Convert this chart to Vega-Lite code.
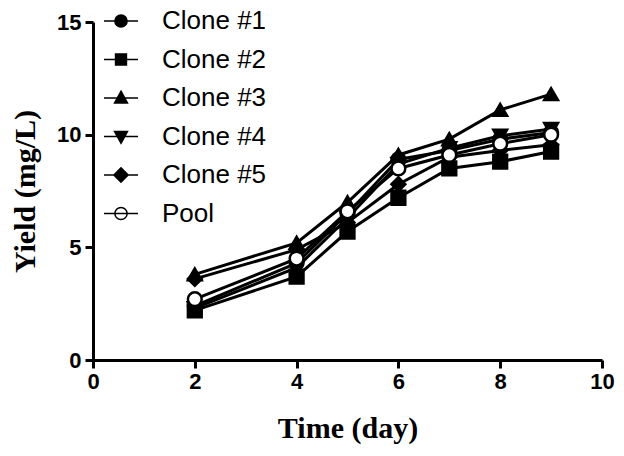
{
  "$schema": "https://vega.github.io/schema/vega-lite/v6.json",
  "autosize": "none",
  "padding": {"left": 93, "top": 22, "right": 22, "bottom": 96},
  "width": 509,
  "height": 338,
  "background": "white",
  "config": {
    "view": {"stroke": null},
    "axis": {
      "grid": false,
      "domainColor": "black",
      "domainWidth": 3,
      "tickColor": "black",
      "tickWidth": 3,
      "tickSize": 8,
      "labelFont": "Liberation Sans",
      "labelFontWeight": "bold",
      "labelFontSize": 22,
      "labelColor": "black",
      "titleFont": "Liberation Serif",
      "titleFontWeight": "bold",
      "titleFontSize": 30,
      "titleColor": "black"
    }
  },
  "data": {
    "values": [
      {"series": "Clone #1", "day": 2, "yield": 2.4},
      {"series": "Clone #1", "day": 4, "yield": 4.3},
      {"series": "Clone #1", "day": 5, "yield": 6.5},
      {"series": "Clone #1", "day": 6, "yield": 8.9},
      {"series": "Clone #1", "day": 7, "yield": 9.3},
      {"series": "Clone #1", "day": 8, "yield": 9.8},
      {"series": "Clone #1", "day": 9, "yield": 10.1},
      {"series": "Clone #2", "day": 2, "yield": 2.2},
      {"series": "Clone #2", "day": 4, "yield": 3.7},
      {"series": "Clone #2", "day": 5, "yield": 5.7},
      {"series": "Clone #2", "day": 6, "yield": 7.2},
      {"series": "Clone #2", "day": 7, "yield": 8.5},
      {"series": "Clone #2", "day": 8, "yield": 8.8},
      {"series": "Clone #2", "day": 9, "yield": 9.25},
      {"series": "Clone #3", "day": 2, "yield": 3.8},
      {"series": "Clone #3", "day": 4, "yield": 5.2},
      {"series": "Clone #3", "day": 5, "yield": 7.0},
      {"series": "Clone #3", "day": 6, "yield": 9.1},
      {"series": "Clone #3", "day": 7, "yield": 9.8},
      {"series": "Clone #3", "day": 8, "yield": 11.1},
      {"series": "Clone #3", "day": 9, "yield": 11.8},
      {"series": "Clone #4", "day": 2, "yield": 2.3},
      {"series": "Clone #4", "day": 4, "yield": 4.1},
      {"series": "Clone #4", "day": 5, "yield": 6.3},
      {"series": "Clone #4", "day": 6, "yield": 8.7},
      {"series": "Clone #4", "day": 7, "yield": 9.4},
      {"series": "Clone #4", "day": 8, "yield": 9.95},
      {"series": "Clone #4", "day": 9, "yield": 10.25},
      {"series": "Clone #5", "day": 2, "yield": 3.6},
      {"series": "Clone #5", "day": 4, "yield": 4.9},
      {"series": "Clone #5", "day": 5, "yield": 6.1},
      {"series": "Clone #5", "day": 6, "yield": 7.8},
      {"series": "Clone #5", "day": 7, "yield": 9.0},
      {"series": "Clone #5", "day": 8, "yield": 9.3},
      {"series": "Clone #5", "day": 9, "yield": 9.55},
      {"series": "Pool", "day": 2, "yield": 2.7},
      {"series": "Pool", "day": 4, "yield": 4.5},
      {"series": "Pool", "day": 5, "yield": 6.6},
      {"series": "Pool", "day": 6, "yield": 8.5},
      {"series": "Pool", "day": 7, "yield": 9.1},
      {"series": "Pool", "day": 8, "yield": 9.6},
      {"series": "Pool", "day": 9, "yield": 10.0}
    ]
  },
  "encoding": {
    "x": {
      "field": "day",
      "type": "quantitative",
      "scale": {"domain": [0, 10], "nice": false},
      "axis": {
        "title": "Time (day)",
        "values": [0, 2, 4, 6, 8, 10],
        "labelFlush": false,
        "labelPadding": 3,
        "titleY": 68,
        "titleBaseline": "middle"
      }
    },
    "y": {
      "field": "yield",
      "type": "quantitative",
      "scale": {"domain": [0, 15], "nice": false},
      "axis": {
        "title": "Yield (mg/L)",
        "values": [0, 5, 10, 15],
        "labelPadding": 4,
        "titleX": -68,
        "titleY": 169,
        "titleAngle": -90,
        "titleAlign": "center",
        "titleBaseline": "middle"
      }
    }
  },
  "layer": [
    {
      "mark": {"type": "line", "stroke": "black", "strokeWidth": 3},
      "encoding": {"detail": {"field": "series", "type": "nominal"}}
    },
    {
      "mark": {"type": "point", "stroke": "black", "strokeWidth": 2.5, "size": 190, "opacity": 1},
      "encoding": {
        "shape": {
          "field": "series",
          "type": "nominal",
          "scale": {
            "domain": ["Clone #1", "Clone #2", "Clone #3", "Clone #4", "Clone #5", "Pool"],
            "range": ["circle", "square", "triangle-up", "triangle-down", "diamond", "circle"]
          },
          "legend": null
        },
        "fill": {
          "field": "series",
          "type": "nominal",
          "scale": {
            "domain": ["Clone #1", "Clone #2", "Clone #3", "Clone #4", "Clone #5", "Pool"],
            "range": ["black", "black", "black", "black", "black", "white"]
          },
          "legend": null
        }
      }
    },
    {
      "transform": [{"filter": "datum.day < 0"}],
      "mark": {"type": "point", "stroke": "black", "strokeWidth": 3, "opacity": 1},
      "encoding": {
        "shape": {
          "field": "series",
          "type": "nominal",
          "scale": {
            "domain": ["Clone #1", "Clone #2", "Clone #3", "Clone #4", "Clone #5", "Pool"],
            "range": [
              "M-1,0H1M0.36,0A0.36,0.36,0,1,1,-0.36,0A0.36,0.36,0,1,1,0.36,0Z",
              "M-1,0H1M-0.32,-0.32H0.32V0.32H-0.32Z",
              "M-1,0H1M0,-0.4L0.38,0.3H-0.38Z",
              "M-1,0H1M0,0.4L0.38,-0.3H-0.38Z",
              "M-1,0H1M0,-0.42L0.42,0L0,0.42L-0.42,0Z",
              "M0.36,0A0.36,0.36,0,1,1,-0.36,0A0.36,0.36,0,1,1,0.36,0ZM-1,0H1"
            ]
          },
          "legend": {
            "title": null,
            "orient": "none",
            "legendX": 10,
            "legendY": -19,
            "padding": 0,
            "symbolSize": 1156,
            "labelFont": "Liberation Sans",
            "labelFontSize": 26,
            "labelColor": "black",
            "labelOffset": 23,
            "rowPadding": 7.5,
            "labelLimit": 300,
            "encode": {
              "symbols": {
                "update": {
                  "stroke": {"value": "black"},
                  "strokeWidth": {"value": 3},
                  "opacity": {"value": 1}
                }
              }
            }
          }
        },
        "fill": {
          "field": "series",
          "type": "nominal",
          "scale": {
            "domain": ["Clone #1", "Clone #2", "Clone #3", "Clone #4", "Clone #5", "Pool"],
            "range": ["black", "black", "black", "black", "black", "white"]
          },
          "legend": {
            "title": null,
            "orient": "none",
            "legendX": 10,
            "legendY": -19,
            "padding": 0,
            "symbolSize": 1156,
            "labelFont": "Liberation Sans",
            "labelFontSize": 26,
            "labelColor": "black",
            "labelOffset": 23,
            "rowPadding": 7.5,
            "labelLimit": 300,
            "encode": {
              "symbols": {
                "update": {
                  "stroke": {"value": "black"},
                  "strokeWidth": {"value": 3},
                  "opacity": {"value": 1}
                }
              }
            }
          }
        }
      }
    }
  ],
  "resolve": {
    "scale": {"shape": "independent", "fill": "independent"},
    "legend": {"shape": "independent", "fill": "independent"}
  }
}
